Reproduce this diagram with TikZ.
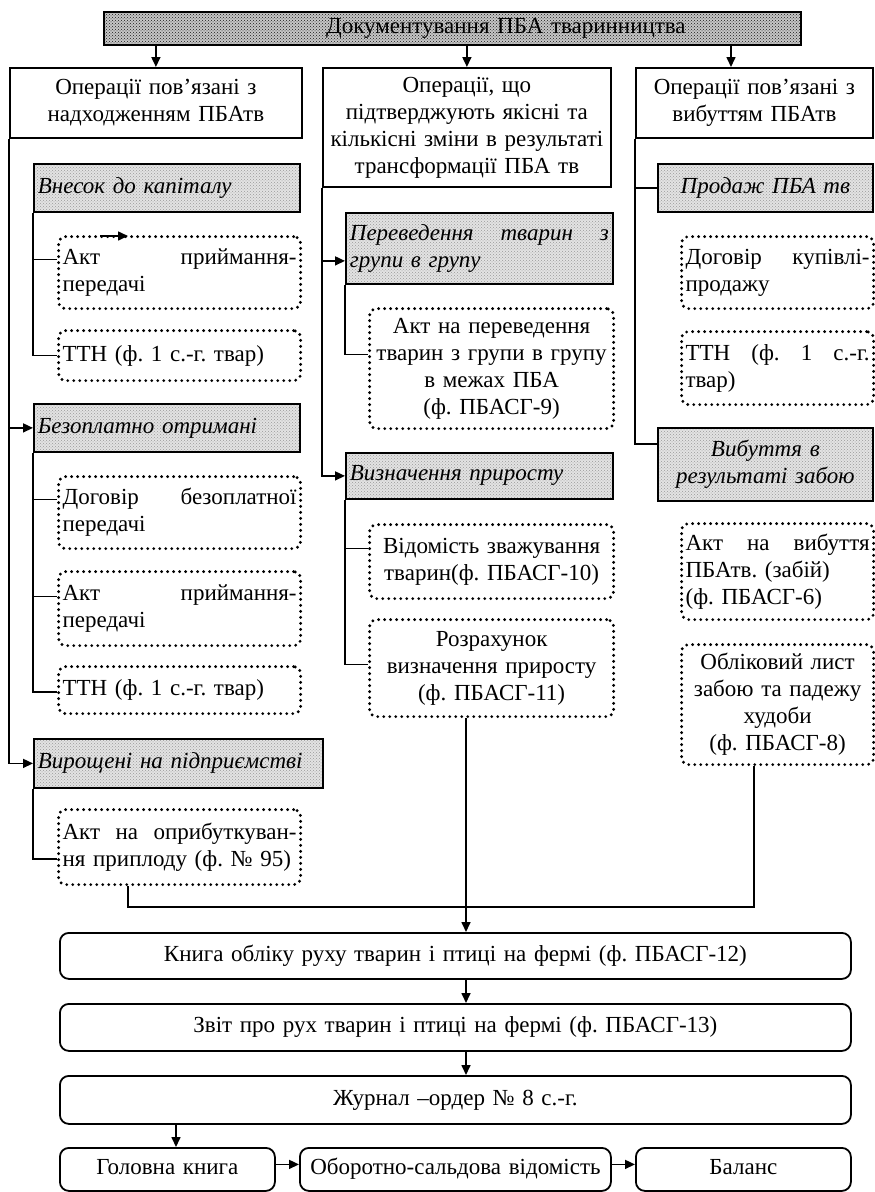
\documentclass[tikz,border=0pt]{standalone}
\usepackage{fontspec}
\setmainfont{Liberation Serif}
\usetikzlibrary{arrows.meta,patterns,calc}
\frenchspacing
\newcommand\bx[7]{%
  \pgfmathsetmacro\bxw{#5-#3}\pgfmathsetmacro\bxh{#6-#4}\pgfmathsetmacro\bxt{#5-#3-8}%
  \node[#1, anchor=north west, minimum width=\bxw pt, minimum height=\bxh pt, text width=\bxt pt] (#2) at (#3,#4) {#7};}
\begin{document}
\begin{tikzpicture}[x=1pt,y=-1pt,
  base/.style={inner xsep=4pt, inner ysep=0pt, font=\fontsize{23}{27}\selectfont\frenchspacing},
  hdr/.style={base, draw, line width=1.8pt, align=center},
  shadebox/.style={base, draw, line width=1.8pt, preaction={fill=gray!22}, pattern=crosshatch dots, pattern color=gray!80, font=\fontsize{23}{27}\selectfont\itshape\frenchspacing, align=left},
  titlebox/.style={base, draw, line width=1.8pt, preaction={fill=gray!45}, pattern=crosshatch dots, pattern color=black!90, align=center},
  doc/.style={base, draw, line width=3.2pt, dash pattern=on 0pt off 6pt, line cap=round, rounded corners=7pt, align=left},
  flow/.style={base, draw, line width=1.8pt, rounded corners=9pt, align=center, text height=16pt, text depth=5pt},
  ln/.style={line width=1.6pt},
  arr/.style={line width=1.6pt, -{Triangle[length=10pt,width=9pt]}}]
\useasboundingbox (0,0) rectangle (875,1192);
\fill[white] (0,0) rectangle (875,1192);

\bx{titlebox}{title}{103}{11}{800}{44}{\hspace*{107pt}Документування ПБА тваринництва}
\bx{hdr}{colL}{9}{67}{301}{137}{Операції пов’язані з\\надходженням ПБАтв}
\bx{hdr}{colM}{322}{67}{610}{186}{Операції, що\\підтверджують якісні та\\кількісні зміни в результаті\\трансформації ПБА тв}
\bx{hdr}{colR}{635}{67}{872}{137}{Операції пов’язані з\\вибуттям ПБАтв}

% left column
\bx{shadebox}{vnesok}{33}{163}{299}{211}{Внесок до капіталу}
\bx{doc}{akt1}{57}{235}{299}{307}{Акт\hfill приймання-\\передачі}
\bx{doc}{ttn1}{57}{329}{299}{379}{ТТН (ф. 1 с.-г. твар)}
\bx{shadebox}{bez}{33}{403}{299}{451}{Безоплатно отримані}
\bx{doc}{dog1}{57}{475}{299}{547}{Договір\hfill безоплатної\\передачі}
\bx{doc}{akt2}{57}{570}{299}{644}{Акт\hfill приймання-\\передачі}
\bx{doc}{ttn2}{57}{665}{299}{712}{ТТН (ф. 1 с.-г. твар)}
\bx{shadebox}{vyr}{33}{738}{322}{787}{Вирощені на підприємстві}
\bx{doc}{oprib}{57}{808}{299}{883}{Акт\hfill на\hfill оприбуткуван-\\ня приплоду (ф. № 95)}

% middle column
\bx{shadebox}{perev}{345}{212}{612}{283}{Переведення\hfill тварин\hfill з\\групи в групу}
\bx{doc,align=center}{aktp}{368}{307}{612}{427}{Акт на переведення\\тварин з групи в групу\\в межах ПБА\\(ф. ПБАСГ-9)}
\bx{shadebox}{vyzn}{345}{452}{612}{498}{Визначення приросту}
\bx{doc,align=center}{vidom}{368}{523}{612}{597}{Відомість зважування\\тварин(ф. ПБАСГ-10)}
\bx{doc,align=center}{rozr}{368}{618}{612}{715}{Розрахунок\\визначення приросту\\(ф. ПБАСГ-11)}

% right column
\bx{shadebox,align=center}{prod}{657}{163}{872}{211}{Продаж ПБА тв}
\bx{doc}{dogk}{680}{235}{872}{307}{Договір\hfill купівлі-\\продажу}
\bx{doc}{ttn3}{680}{330}{872}{403}{ТТН\hfill (ф.\hfill 1\hfill с.-г.\\твар)}
\bx{shadebox,align=center}{vyb}{657}{427}{872}{500}{Вибуття в\\результаті забою}
\bx{doc}{aktv}{680}{522}{872}{618}{Акт\hfill на\hfill вибуття\\ПБАтв. (забій)\\(ф. ПБАСГ-6)}
\bx{doc,align=center}{oblik}{680}{643}{872}{763}{Обліковий лист\\забою та падежу\\худоби\\(ф. ПБАСГ-8)}

% bottom
\bx{flow}{knyha}{59}{932}{850}{978}{Книга обліку руху тварин і птиці на фермі (ф. ПБАСГ-12)}
\bx{flow}{zvit}{59}{1003}{850}{1050}{Звіт про рух тварин і птиці на фермі (ф. ПБАСГ-13)}
\bx{flow}{zhurn}{59}{1075}{850}{1123}{Журнал –ордер № 8 с.-г.}
\bx{flow}{golov}{59}{1147}{274}{1190}{Головна книга}
\bx{flow}{obor}{299}{1147}{610}{1190}{Оборотно-сальдова відомість}
\bx{flow}{bal}{635}{1147}{850}{1190}{Баланс}

% title arrows
\draw[arr] (title.south -| colL.north) -- (colL.north);
\draw[arr] (title.south -| colM.north) -- (colM.north);
\coordinate (tr) at ($(colR.north west)+(96,0)$);
\draw[arr] (title.south -| tr) -- (tr);

% left connectors
\draw[arr] (colL.south west) |- (vyr.west);
\draw[arr] (colL.south west |- bez.west) -- (bez.west);
\draw[ln] (vnesok.south west) |- ($(akt1.west)+(0,-13)$);
\draw[ln] (vnesok.south west) |- (ttn1.west);
\draw[ln] (bez.south west) |- ($(dog1.west)+(0,-13)$);
\draw[ln] (bez.south west) |- ($(akt2.west)+(0,-12)$);
\draw[ln] (bez.south west) |- ($(ttn2.west)+(0,2)$);
\draw[ln] (vyr.south west) |- ($(oprib.west)+(0,12)$);
\coordinate (sa1) at ($(akt1.north west)+(43,1)$);
\coordinate (sa2) at ($(akt1.north west)+(71,1)$);
\draw[arr] (sa1) -- (sa2);

% middle connectors
\draw[arr] (colM.south west) |- (vyzn.west);
\coordinate (pv) at ($(perev.west)+(0,12.5)$);
\draw[arr] (colM.south west |- pv) -- (pv);
\draw[ln] (perev.south west) |- ($(aktp.west)+(0,-14)$);
\draw[ln] (vyzn.south west) |- ($(vidom.west)+(0,-13)$);
\draw[ln] (vyzn.south west) |- ($(rozr.west)+(0,-3.5)$);

% right connectors
\draw[ln] (colR.south west) |- ($(vyb.west)+(0,-20.5)$);
\draw[ln] (colR.south west |- prod.west) -- (prod.west);

% bottom connectors
\coordinate (rz) at ($(rozr.south west)+(98,0)$);
\coordinate (jn) at (466,907);
\coordinate (op) at ($(oprib.south west)+(71,0)$);
\coordinate (ob) at ($(oblik.south west)+(74,0)$);
\draw[ln] (op) |- (jn) -| (ob);
\draw[arr] (rz) -- (rz |- knyha.north);
\draw[arr] (knyha.south -| rz) -- (zvit.north -| rz);
\draw[arr] (zvit.south -| rz) -- (zhurn.north -| rz);
\coordinate (gj) at ($(golov.north west)+(117,0)$);
\draw[arr] (gj |- zhurn.south) -- (gj);
\coordinate (g1) at ($(golov.east)+(0,-5)$);
\coordinate (o1) at ($(obor.west)+(0,-5)$);
\coordinate (o2) at ($(obor.east)+(0,-5)$);
\coordinate (b1) at ($(bal.west)+(0,-5)$);
\draw[arr] (g1) -- (o1);
\draw[arr] (o2) -- (b1);
\end{tikzpicture}
\end{document}
